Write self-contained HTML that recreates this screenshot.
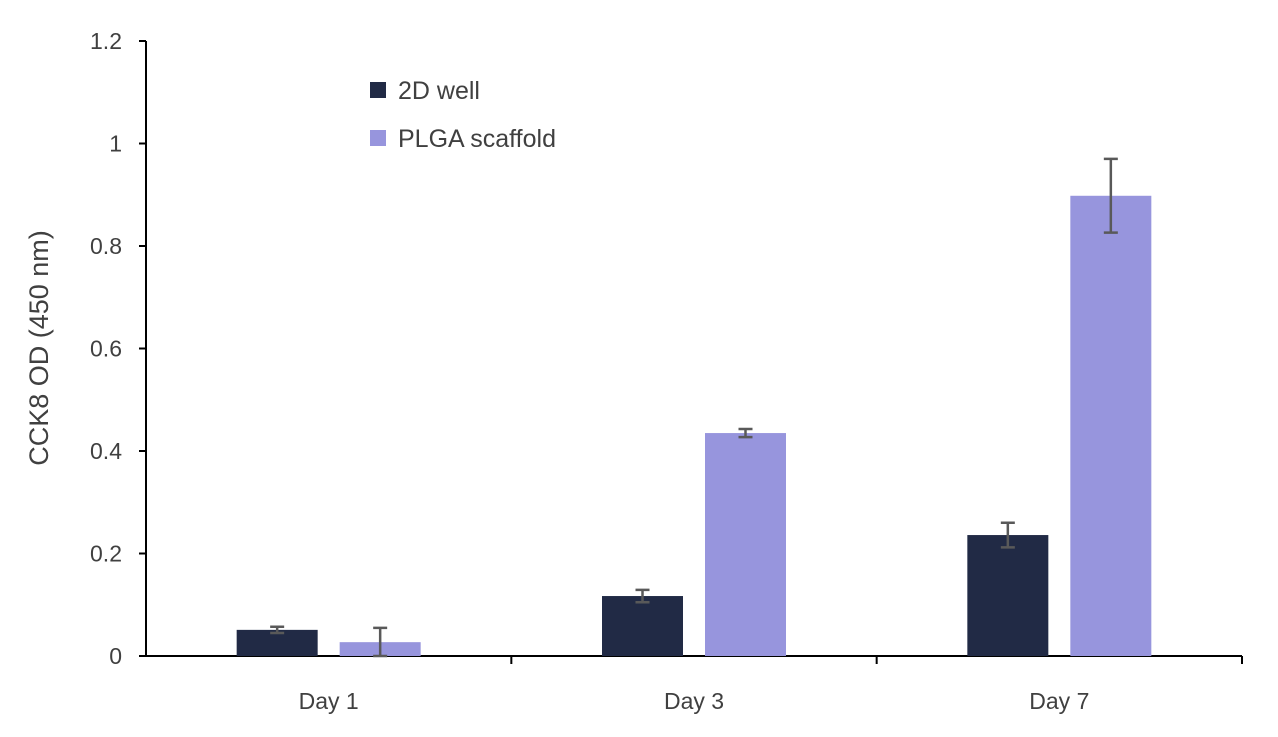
<!DOCTYPE html>
<html><head><meta charset="utf-8"><style>
body{margin:0;background:#fff;font-family:"Liberation Sans",sans-serif;}
svg text{font-family:"Liberation Sans",sans-serif;fill:#404040;}
</style></head><body>
<svg id="chart" width="1278" height="732" viewBox="0 0 1278 732" xmlns="http://www.w3.org/2000/svg">
<g id="axes"></g><g id="bars"></g>
<text transform="translate(48,348) rotate(-90)" text-anchor="middle" font-size="27">CCK8 OD (450 nm)</text>
<g>
<rect x="370" y="82" width="16" height="16" fill="#212a45"/>
<text x="398" y="99" font-size="25">2D well</text>
<rect x="370" y="130" width="16" height="16" fill="#9795dd"/>
<text x="398" y="147" font-size="25">PLGA scaffold</text>
</g>
</svg>
<script>
const categories=["Day 1","Day 3","Day 7"];
const well2d=[0.051,0.117,0.236];
const well2dErr=[0.006,0.012,0.024];
const plga=[0.027,0.435,0.898];
const plgaErr=[0.028,0.008,0.072];
const yTicks=[0,0.2,0.4,0.6,0.8,1,1.2];
const ns="http://www.w3.org/2000/svg";
const x0=146,x1=1242,y0=656,yTop=41,yMax=1.2;
const y=v=>y0-(v/yMax)*(y0-yTop);
const catW=(x1-x0)/categories.length;
function mk(tag,attrs,parent){const e=document.createElementNS(ns,tag);for(const k in attrs)e.setAttribute(k,attrs[k]);parent.appendChild(e);return e;}
const axes=document.getElementById('axes'),bars=document.getElementById('bars');
let l=mk('line',{x1:x0,y1:yTop,x2:x0,y2:y0,stroke:'#000','stroke-width':2},axes);


l=mk('line',{x1:x0,y1:y0,x2:x1,y2:y0,stroke:'#000','stroke-width':2},axes);


yTicks.forEach(t=>{
 const tk=mk('line',{x1:x0-7,y1:y(t),x2:x0,y2:y(t),stroke:'#000','stroke-width':2},axes);
 
 
 const tx=mk('text',{x:x0-24,y:y(t)+8,'text-anchor':'end','font-size':23},axes);
 tx.textContent=String(t);
 
 
});
for(let i=0;i<=categories.length;i++){
 if(i===0)continue;
 const tk=mk('line',{x1:x0+catW*i,y1:y0,x2:x0+catW*i,y2:y0+8,stroke:'#000','stroke-width':2},axes);
 
 
}
const bw=81,gap=22;
categories.forEach((c,i)=>{
 const cx=x0+catW*(i+0.5);
 const tx=mk('text',{x:cx,y:709,'text-anchor':'middle','font-size':23},axes);
 tx.textContent=c;
 
 
 [[well2d,well2dErr,'#212a45',cx-gap/2-bw,'2d-well'],[plga,plgaErr,'#9795dd',cx+gap/2,'plga-scaffold']].forEach(([vals,errs,col,bx,nm])=>{
  const r=mk('rect',{x:bx,y:y(vals[i]),width:bw,height:y0-y(vals[i]),fill:col},bars);
  
  
  const ex=bx+bw/2,hi=y(vals[i]+errs[i]),lo=y(Math.max(0,vals[i]-errs[i]));
  const g=mk('path',{d:`M${ex},${hi}V${lo}M${ex-7},${hi}H${ex+7}M${ex-7},${lo}H${ex+7}`,stroke:'#595959','stroke-width':2.5,fill:'none'},bars);
  
  
 });
});
</script>
</body></html>
